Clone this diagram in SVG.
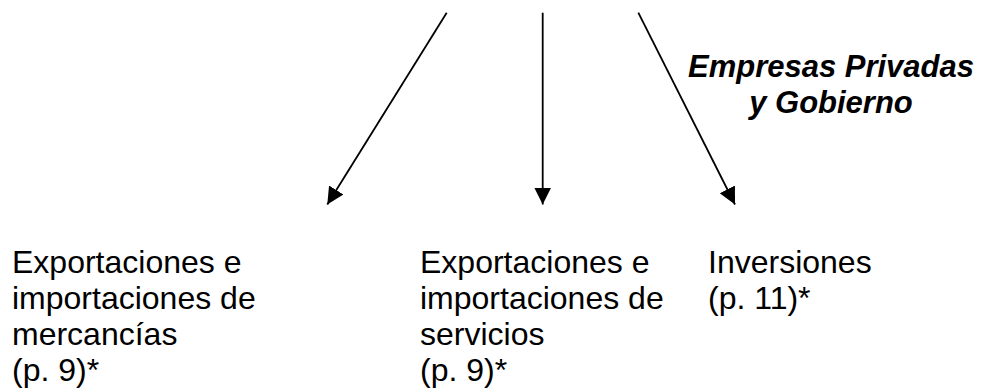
<svg xmlns="http://www.w3.org/2000/svg" width="982" height="392" viewBox="0 0 982 392">
<style>
.t{font-family:"Liberation Sans",Arial,sans-serif;font-size:32px;fill:#000}
.b{font-weight:bold;font-style:italic;font-size:31px}
.c{stroke:#000;stroke-width:1.8;fill:none}
</style>
<defs>
<marker id="ah" markerUnits="userSpaceOnUse" markerWidth="18" markerHeight="18" refX="17" refY="8.5" orient="auto">
<path d="M0,0 L17,8.5 L0,17 z" fill="#000"/>
</marker>
</defs>
<rect width="982" height="392" fill="#fff"/>
<g id="connectors">
<line class="c" x1="446.7" y1="12.7" x2="327.3" y2="204.5" marker-end="url(#ah)"/>
<line class="c" x1="542.7" y1="12.7" x2="542.7" y2="204.5" marker-end="url(#ah)"/>
<line class="c" x1="638.3" y1="12.7" x2="735" y2="204.5" marker-end="url(#ah)"/>
</g>
<g id="label-empresas">
<text class="t b" x="831" y="77" text-anchor="middle">Empresas Privadas</text>
<text class="t b" x="831" y="113" text-anchor="middle">y Gobierno</text>
</g>
<g id="node-mercancias">
<text class="t" x="12" y="273">Exportaciones e</text>
<text class="t" x="12" y="309">importaciones de</text>
<text class="t" x="12" y="345">mercancías</text>
<text class="t" x="12" y="381">(p. 9)*</text>
</g>
<g id="node-servicios">
<text class="t" x="420" y="273">Exportaciones e</text>
<text class="t" x="420" y="309">importaciones de</text>
<text class="t" x="420" y="345">servicios</text>
<text class="t" x="420" y="381">(p. 9)*</text>
</g>
<g id="node-inversiones">
<text class="t" x="708" y="273">Inversiones</text>
<text class="t" x="708" y="309">(p. 11)*</text>
</g>
</svg>
